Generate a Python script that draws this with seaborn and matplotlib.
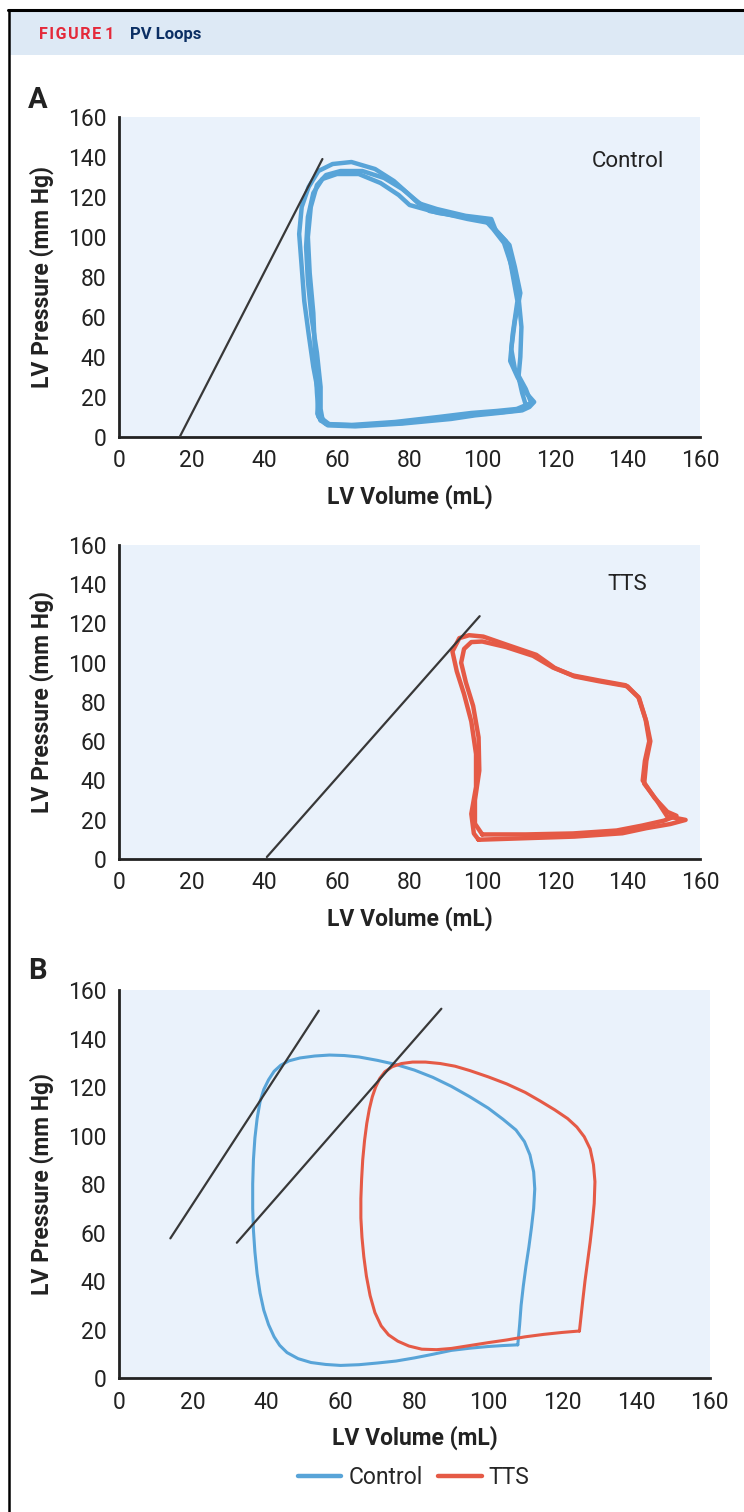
import numpy as np
import pandas as pd
import seaborn as sns
import matplotlib.pyplot as plt
from matplotlib.lines import Line2D
from matplotlib.patches import Rectangle

# ---- data ----
# Panel A, control: three beats
ctrl_beat1_vol = [55.5, 57.5, 65, 78, 91.4, 98, 104.5, 111, 113, 114.3, 112.3, 109.7, 107.7, 108.4, 109.7,
                  107.7, 106.5, 103.8, 102.5, 95.4, 87.5, 82.3, 79.7, 75.7, 70.5, 64, 58.8, 54.9, 52.2,
                  50.3, 49.6, 50.3, 51, 52.2, 53.5, 54.9, 54.6, 55.5]
ctrl_beat1_p = [8.3, 5.8, 5.3, 6.7, 9, 10.8, 12, 13.3, 15, 17.5, 21.6, 30, 38, 51.6, 68,
                88, 98, 103, 109, 110.6, 114, 117, 121.5, 128, 134, 137.5, 136.5, 133, 125,
                115, 101.5, 85, 68, 51.6, 35, 21.6, 11.6, 8.3]
ctrl_beat2_vol = [56, 58, 66, 78, 90, 99, 106, 110.5, 112, 111, 110, 110.5, 110.8, 110, 108, 106, 103,
                  101, 95, 88, 84, 80, 77, 72, 66, 60, 56, 53.5, 52, 51.5, 52, 53, 54.5, 55.5, 55.5, 56]
ctrl_beat2_p = [9, 6.2, 5.8, 7, 9.5, 11.5, 12.5, 13.5, 16, 22, 30, 40, 55, 70, 86, 97, 104,
                108, 110, 112, 114, 116, 121, 127, 131.5, 131.5, 129, 122, 110, 95, 78, 60, 42, 25, 14, 9]
ctrl_beat3_vol = [55, 57, 64, 76, 88, 97, 104, 109.5, 113.5, 112, 109, 108, 109, 110.5, 109, 107.5,
                  104.5, 102, 96, 90, 85.5, 82, 78, 73, 67, 61, 57, 54.5, 52.8, 52, 52.5, 53.5, 54, 54.5, 55]
ctrl_beat3_p = [10, 6.5, 6, 7.5, 10, 12, 13, 14, 17, 24, 34, 44, 58, 72, 85, 96,
                102, 107, 109, 111.5, 113, 118, 124, 129.5, 133, 133, 131, 126, 115, 100, 82, 62, 40, 22, 10]
ctrl_espvr_vol = [16.7, 56]
ctrl_espvr_p = [0, 139]

# Panel A, TTS: two beats
tts_beat1_vol = [99, 112.2, 125.4, 138.6, 145.2, 151.8, 156, 153, 151, 148, 144.6, 145.2, 146.3, 145.2,
                 143.2, 140, 132, 125.4, 120, 114.9, 107, 100.3, 96.4, 93.7, 91.8, 93, 95, 97, 98.3,
                 98.3, 97, 97.7, 99]
tts_beat1_p = [9.8, 10.6, 11.4, 13.1, 15.7, 17.8, 19.9, 21, 21.5, 30, 38.4, 50, 60, 70,
               82, 88, 90.6, 93, 97.3, 104, 109, 113.3, 114, 112.5, 105.7, 95.6, 84, 70, 53.5,
               36.7, 23, 13, 9.8]
tts_beat2_vol = [100, 112, 125, 137, 144, 150, 153.5, 151, 147.5, 144.2, 144.8, 146, 145, 143, 139.5,
                 132, 125, 119.5, 114, 106.5, 100, 97, 95, 94.2, 95.5, 97.5, 99, 99.2, 98, 98, 100]
tts_beat2_p = [12.5, 12.5, 13, 14.5, 17, 19.5, 22, 24, 31, 40, 50, 60, 71, 82.5, 88.5,
               91, 93.5, 97.5, 103.5, 108, 110.8, 110.5, 107, 100, 90, 78, 62, 45, 30, 18, 12.5]
tts_espvr_vol = [40.7, 99.3]
tts_espvr_p = [1, 123.7]

# Panel B, averaged loops
b_ctrl_vol = [108, 104, 100, 95, 90, 85, 80, 75, 70, 65, 60, 56, 52, 48.5, 45.5, 43.5, 42, 40.5, 39.2,
              38.2, 37.4, 36.8, 36.4, 36.2, 36.2, 36.4, 36.8, 37.4, 38.2, 39.2, 40.5, 42, 43.8, 46, 49,
              53, 57, 61, 65, 70, 75, 80, 85, 90, 95, 100, 104, 107.5, 109.8, 111.3, 112.3, 112.6,
              112.3, 111.7, 111, 110.2, 109.5, 108.9, 108.5, 108]
b_ctrl_p = [13.7, 13.4, 13.0, 12.3, 11.4, 9.8, 8.3, 7.0, 6.2, 5.5, 5.2, 5.6, 6.4, 8.0, 10.5, 13.5, 17,
            22, 28, 35, 43, 52, 61, 70, 80, 90, 99, 107, 114, 119, 123, 126.5, 129, 130.8, 132,
            132.8, 133.2, 133, 132.4, 131, 129.3, 127, 124, 120.3, 116, 111.3, 106.7, 102.3, 97.5,
            92, 85, 78, 70, 62, 54, 46, 38, 30, 22, 13.7]
b_tts_vol = [124.7, 120, 115, 110, 105, 100, 95, 90, 86, 82, 78.5, 75.5, 73, 71, 69.3, 68, 67, 66.3,
             65.8, 65.5, 65.5, 65.7, 66, 66.5, 67.1, 67.8, 68.6, 69.5, 70.6, 72, 74, 76.5, 79.5, 83,
             87, 91, 95, 100, 105, 110, 114, 118, 121.5, 124, 126, 127.6, 128.5, 128.9, 128.7,
             128.2, 127.6, 126.9, 126.2, 125.6, 125.1, 124.7]
b_tts_p = [19.4, 18.8, 18.0, 17.0, 15.7, 14.6, 13.4, 12.2, 11.7, 11.9, 13.2, 15.2, 17.8, 21.5, 27,
           34, 42, 50, 58, 66, 74, 82, 90, 98, 105, 111, 116, 120, 123.5, 126.3, 128.4, 129.7,
           130.3, 130.3, 129.7, 128.6, 126.8, 124.2, 121.3, 117.8, 114.3, 110.6, 107, 103.5, 99.5,
           94.5, 88, 81, 72, 64, 56, 48, 40, 32, 25, 19.4]
b_ctrl_espvr_vol = [13.9, 54.1]
b_ctrl_espvr_p = [57.6, 151.5]
b_tts_espvr_vol = [31.9, 87.3]
b_tts_espvr_p = [55.8, 152.3]

ticks = [0, 20, 40, 60, 80, 100, 120, 140, 160]

BLUE = "#58a4d8"
RED = "#e55a46"
DARK = "#222222"
LINE = "#383838"
AX_BG = "#eaf2fb"

sns.set_theme(style="white")
plt.rcParams["font.family"] = ["Roboto", "DejaVu Sans"]


def loop(ax, vol, p, color, lw, label=None):
    df = pd.DataFrame({"vol": vol, "p": p})
    sns.lineplot(data=df, x="vol", y="p", sort=False, estimator=None, color=color,
                 linewidth=lw, ax=ax, label=label, legend=False,
                 solid_joinstyle="round", solid_capstyle="round")


def style(ax):
    ax.set_facecolor(AX_BG)
    ax.set_xlim(0, 160)
    ax.set_ylim(0, 160)
    ax.set_xticks(ticks)
    ax.set_yticks(ticks)
    ax.set_xticklabels([str(t) for t in ticks], fontsize=16.5, color=DARK)
    ax.set_yticklabels([str(t) for t in ticks], fontsize=16.5, color=DARK)
    for s in ["top", "right"]:
        ax.spines[s].set_visible(False)
    for s in ["left", "bottom"]:
        ax.spines[s].set_color(DARK)
        ax.spines[s].set_linewidth(2)
    ax.tick_params(axis="both", direction="out", length=6, width=2, color=DARK, pad=3)
    ax.set_xlabel("LV Volume (mL)", fontsize=16.5, fontweight="bold", color=DARK, labelpad=9)
    ax.set_ylabel("LV Pressure (mm Hg)", fontsize=16.5, fontweight="bold", color=DARK, labelpad=10)


fig = plt.figure(figsize=(7.44, 15.12), dpi=100)

# header band and frame
fig.patches.append(Rectangle((0.012, 0.9636), 0.988, 0.0291, transform=fig.transFigure,
                             facecolor="#dde9f5", edgecolor="none", zorder=0))
fig.add_artist(Line2D([0.011, 1.0], [0.9935, 0.9935], transform=fig.transFigure, color="black", lw=2.2))
fig.add_artist(Line2D([0.012, 0.012], [0.0, 0.9935], transform=fig.transFigure, color="black", lw=1.8))
fig.text(0.053, 0.9775, "\u200a".join("FIGURE") + " 1", color="#e4293a", fontsize=11.5,
         fontweight="bold", va="center", ha="left")
fig.text(0.175, 0.9775, "PV Loops", color="#0b2f64", fontsize=12, fontweight="bold",
         va="center", ha="left")

# panel A - control
ax1 = fig.add_axes([0.16, 0.711, 0.781, 0.2116])
for v, p in [(ctrl_beat1_vol, ctrl_beat1_p), (ctrl_beat2_vol, ctrl_beat2_p), (ctrl_beat3_vol, ctrl_beat3_p)]:
    loop(ax1, v, p, BLUE, 3.2)
ax1.plot(ctrl_espvr_vol, ctrl_espvr_p, color=LINE, lw=1.6, zorder=3)
ax1.text(140, 138, "Control", fontsize=16, color=DARK, ha="center", va="center")
style(ax1)

# panel A - TTS
ax2 = fig.add_axes([0.16, 0.4319, 0.781, 0.2077])
for v, p in [(tts_beat1_vol, tts_beat1_p), (tts_beat2_vol, tts_beat2_p)]:
    loop(ax2, v, p, RED, 3.2)
ax2.plot(tts_espvr_vol, tts_espvr_p, color=LINE, lw=1.6, zorder=3)
ax2.text(140, 140, "TTS", fontsize=16, color=DARK, ha="center", va="center")
style(ax2)

# panel B - averaged loops
ax3 = fig.add_axes([0.16, 0.0886, 0.794, 0.2566])
loop(ax3, b_ctrl_vol, b_ctrl_p, BLUE, 2.2, label="Control")
loop(ax3, b_tts_vol, b_tts_p, RED, 2.2, label="TTS")
ax3.plot(b_ctrl_espvr_vol, b_ctrl_espvr_p, color=LINE, lw=1.6)
ax3.plot(b_tts_espvr_vol, b_tts_espvr_p, color=LINE, lw=1.6)
style(ax3)

handles = [Line2D([], [], color=BLUE, lw=3.2), Line2D([], [], color=RED, lw=3.2)]
fig.legend(handles, ["Control", "TTS"], loc="center", bbox_to_anchor=(0.556, 0.0225), ncol=2,
           frameon=False, fontsize=16.5, handlelength=1.9, handletextpad=0.3, columnspacing=0.7)

fig.text(0.038, 0.934, "A", fontsize=21, fontweight="bold", color=DARK, ha="left", va="center")
fig.text(0.038, 0.358, "B", fontsize=21, fontweight="bold", color=DARK, ha="left", va="center")

fig.savefig("out.png", dpi=100, facecolor="white")
